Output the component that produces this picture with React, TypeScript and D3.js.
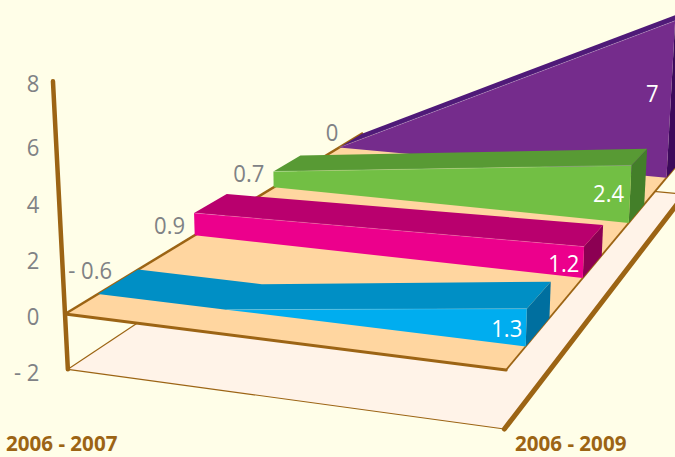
import React from 'react';
import * as d3 from 'd3';

const periods = ['2006 - 2007', '2006 - 2009'];
const seriesNames = ['blue', 'pink', 'green', 'purple'];
const startValues = [-0.6, 0.9, 0.7, 0];
const endValues = [1.3, 1.2, 2.4, 7];
const startLabels = ['- 0.6', '0.9', '0.7', '0'];
const endLabels = ['1.3', '1.2', '2.4', '7'];
const yTicks = [8, 6, 4, 2, 0, -2];
const yTickLabels = ['8', '6', '4', '2', '0', '- 2'];

const frontColors = ['#00adef', '#ec008c', '#72bf44', '#752c8c'];
const topColors = ['#008fc5', '#b9006e', '#589a34', '#4f1a78'];
const sideColors = ['#006f9f', '#8c0053', '#437f29', '#3d0a5b'];
const startOffsets = [[-26, 0], [-9, 12], [-9, 1], [-1, -16]];
const endOffsets = [[-4, 0], [-4, 0], [-6, -2], [-12, -8]];

const BROWN = '#9c6414';
const FONT = '"Open Sans", sans-serif';

const xScale = d3.scalePoint<string>().domain(periods).range([0, 1]);
const zScale = d3.scaleBand<string>().domain(seriesNames).range([0.08, 0.995]).paddingInner(0.611);
const lift = d3.scaleLinear().domain([-2, 8]).range([59, -236]);
const tickY = d3.scaleLinear().domain([8, 6, -2]).range([83, 147, 372]);

// perspective of the box: x along the front, z into the page, l = lifted px
function project(x: number, z: number, l: number): [number, number] {
  const w = 1 - 0.073 * x + 0.4312 * z + 0.00017 * l;
  return [
    (65 + 404.1 * x + 454.5 * z + 0.06 * l) / w,
    (314 + 29 * x - 123.65 * z + l) / w,
  ];
}

const pts = (list: number[][]) => d3.line()(list.map(p => project(p[0], p[1], lift(p[2])))) + 'Z';
const seg = (a: number[], b: number[]) => d3.line()([a, b].map(p => project(p[0], p[1], lift(p[2]))))!;

// digits in the original face are narrower than anything installed
function Label({ x, y, fill, size = 24, weight = 400, squeeze = 0.92, anchor = 'end', children }: any) {
  return (
    <text transform={`translate(${x},${y}) scale(${squeeze},1)`} textAnchor={anchor} dominantBaseline="central"
      fontFamily={FONT} fontSize={size} fontWeight={weight} fill={fill}>{children}</text>
  );
}

export default function App() {
  const x0 = xScale(periods[0])!;
  const x1 = xScale(periods[1])!;
  const order = d3.range(seriesNames.length).reverse();

  return (
    <svg width={675} height={457} style={{ position: 'absolute', left: 0, top: 0, display: 'block' }}>
      <rect width={675} height={457} fill="#fffee8" />

      <path d={pts([[x0, 0, -2], [x1, 0, -2], [x1, 1.06, -2], [x0, 1.06, -2]])} fill="#fff3e8" />
      <path d={seg([x0, 0, -2], [x1, 0, -2])} stroke={BROWN} strokeWidth={1.2} />
      <path d={seg([x0, 0, -2], [x0, 1, -2])} stroke={BROWN} strokeWidth={1.2} />
      <path d={seg([x0, 1.06, -2], [x1, 1.06, -2])} stroke={BROWN} strokeWidth={1.2} />
      <path d={seg([x1, 0, -2], [x1, 1.06, -2])} stroke={BROWN} strokeWidth={5} strokeLinecap="round" />

      <path d={pts([[x0, 0, 0], [x1, 0, 0], [x1, 1, 0], [x0, 1, 0]])} fill="#ffd6a0" />
      <path d={seg([x0, 0, 0], [x0, 1, 0])} stroke={BROWN} strokeWidth={2.5} />
      <path d={seg([x1, 0, 0], [x1, 1, 0])} stroke={BROWN} strokeWidth={1.8} />
      <path d={seg([x0, 0, 0], [x1, 0, 0])} stroke={BROWN} strokeWidth={3.2} strokeLinecap="round" />

      {order.map(i => {
        const name = seriesNames[i];
        const z0 = zScale(name)!;
        const z1 = z0 + zScale.bandwidth();
        const a = startValues[i];
        const b = endValues[i];
        // below the floor the ribbon lies flat on it
        const cross = a < 0 ? x0 + (x1 - x0) * (-a / (b - a)) : x0;
        const aa = Math.max(a, 0);
        const topFace = a < 0
          ? [[x0, z0, 0], [x0, z1, 0], [cross, z1, 0], [x1, z1, b], [x1, z0, b], [cross, z0, 0]]
          : [[x0, z0, aa], [x0, z1, aa], [x1, z1, b], [x1, z0, b]];
        const frontFace = a < 0
          ? [[cross, z0, 0], [x1, z0, b], [x1, z0, 0]]
          : [[x0, z0, 0], [x0, z0, aa], [x1, z0, b], [x1, z0, 0]];
        const sideFace = [[x1, z0, 0], [x1, z0, b], [x1, z1, b], [x1, z1, 0]];
        const startPt = project(x0, a < 0 ? z1 : z0, lift(aa));
        const endPt = project(x1, z0, lift(b / 2));
        return (
          <g key={name}>
            <path d={pts(sideFace)} fill={sideColors[i]} />
            <path d={pts(topFace)} fill={topColors[i]} />
            <path d={pts(frontFace)} fill={frontColors[i]} />
            <path d={seg([cross, z0, aa], [x1, z0, b])} stroke="#ffffff" strokeOpacity={0.25} strokeWidth={0.8} />
            <Label x={startPt[0] + startOffsets[i][0]} y={startPt[1] + startOffsets[i][1]} fill="#808285">{startLabels[i]}</Label>
            <Label x={endPt[0] + endOffsets[i][0]} y={endPt[1] + endOffsets[i][1]} fill="#ffffff">{endLabels[i]}</Label>
          </g>
        );
      })}

      <path d={seg([x0, 0, 8], [x0, 0, -2])} stroke={BROWN} strokeWidth={4.5} strokeLinecap="round" />

      {yTicks.map((t, i) => (
        <Label key={t} x={39.5} y={tickY(t)} fill="#808285">{yTickLabels[i]}</Label>
      ))}

      <Label x={6} y={442.8} size={21} weight={700} squeeze={0.98} anchor="start" fill={BROWN}>{periods[0]}</Label>
      <Label x={515} y={442.8} size={21} weight={700} squeeze={0.98} anchor="start" fill={BROWN}>{periods[1]}</Label>
    </svg>
  );
}
